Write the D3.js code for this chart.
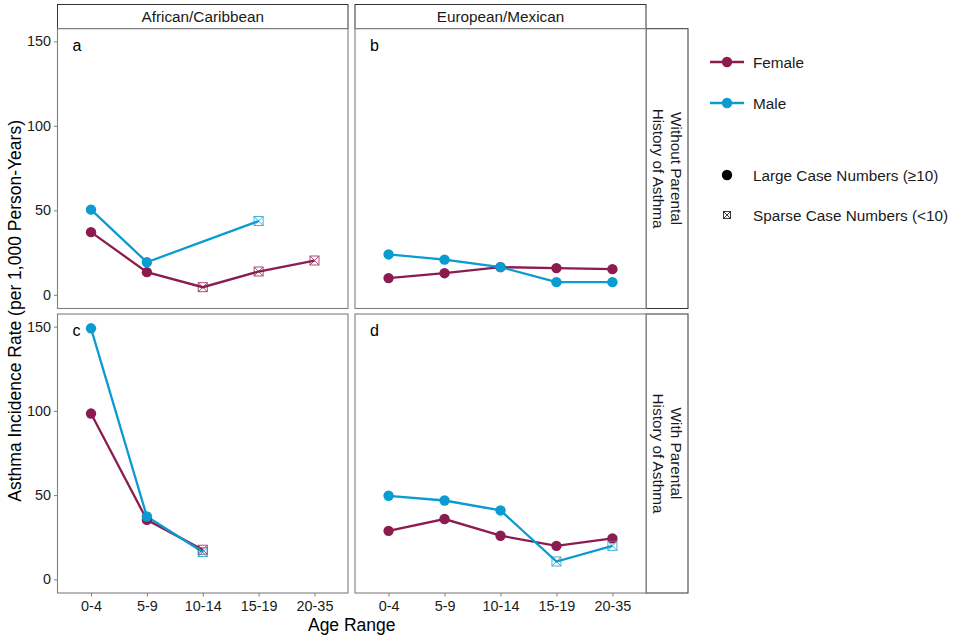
<!DOCTYPE html>
<html>
<head>
<meta charset="utf-8">
<script src="https://cdn.jsdelivr.net/npm/d3@7"></script>
<style>
  body { margin: 0; background: #fff; }
  svg { display: block; font-family: "Liberation Sans", Arial, sans-serif; }
</style>
</head>
<body>
<svg id="chart" width="953" height="638"></svg>
<script>
// ---------------- data ----------------
const ageRanges = ["0-4", "5-9", "10-14", "15-19", "20-35"];
const ancestryGroups = ["African/Caribbean", "European/Mexican"];
const historyGroups = [["Without Parental", "History of Asthma"], ["With Parental", "History of Asthma"]];
const panelLetters = ["a", "b", "c", "d"];
const yTicks = [0, 50, 100, 150];

// rates per panel (a, b, c, d), null = not shown
const femaleRates = [
  [37.1, 13.4, 4.5, 13.8, 20.3],
  [9.9, 12.8, 16.4, 15.8, 15.2],
  [98.4, 35.3, 17.6, null, null],
  [28.8, 35.8, 25.9, 19.9, 24.3]
];
const maleRates = [
  [50.4, 19.3, null, 43.7, null],
  [23.9, 20.8, 16.4, 7.5, 7.5],
  [149.0, 37.3, 16.2, null, null],
  [49.6, 46.8, 40.9, 10.6, 19.9]
];
// 1 = sparse case numbers (<10)
const femaleSparse = [
  [0, 0, 1, 1, 1],
  [0, 0, 0, 0, 0],
  [0, 0, 1, 0, 0],
  [0, 0, 0, 0, 0]
];
const maleSparse = [
  [0, 0, 0, 1, 0],
  [0, 0, 0, 0, 0],
  [0, 0, 1, 0, 0],
  [0, 0, 0, 1, 1]
];
const sexLabels = ["Female", "Male"];
const sexColors = ["#8C1C4F", "#0A9BD1"];
const caseLabels = ["Large Case Numbers (\u226510)", "Sparse Case Numbers (<10)"];

// ---------------- layout ----------------
const svg = d3.select("#chart");
const panelX = [[57.5, 348], [355, 646]];
const panelY = [[28.7, 308.5], [314, 593]];
const stripTop = 4.5;
const stripRightX = 688;
const axisColor = "#7f7f7f";
const stripFont = 15.3, tickFont = 14.4, legendFont = 15.3;

const x = panelX.map(px => d3.scalePoint().domain(ageRanges)
  .range([px[0], px[1]]).padding(0.6));
const y = panelY.map(py => d3.scaleLinear().domain([-8.1, 157.5])
  .range([py[1], py[0]]));

// strips (top)
ancestryGroups.forEach((g, c) => {
  svg.append("rect").attr("x", panelX[c][0]).attr("y", stripTop)
    .attr("width", panelX[c][1] - panelX[c][0]).attr("height", panelY[0][0] - stripTop)
    .attr("fill", "#fff").attr("stroke", "#333").attr("stroke-width", 1);
  svg.append("text").attr("x", (panelX[c][0] + panelX[c][1]) / 2).attr("y", 22)
    .attr("text-anchor", "middle").attr("font-size", stripFont).attr("fill", "#1a1a1a").text(g);
});
// strips (right)
historyGroups.forEach((lines, r) => {
  svg.append("rect").attr("x", panelX[1][1]).attr("y", panelY[r][0])
    .attr("width", stripRightX - panelX[1][1]).attr("height", panelY[r][1] - panelY[r][0])
    .attr("fill", "#fff").attr("stroke", "#333").attr("stroke-width", 1);
  const cx = (panelX[1][1] + stripRightX) / 2, cy = (panelY[r][0] + panelY[r][1]) / 2;
  const t = svg.append("text").attr("transform", `translate(${cx},${cy}) rotate(90)`)
    .attr("text-anchor", "middle").attr("font-size", stripFont).attr("fill", "#1a1a1a");
  lines.forEach((ln, i) => t.append("tspan").attr("x", 0).attr("y", (i === 0 ? -8.8 : 8.8) + 5.3).text(ln));
});

// markers
const marker = (g, px, py, sparse, color, size) => {
  if (sparse) {
    const h = size / 2;
    const m = g.append("g").attr("stroke", color).attr("stroke-width", 0.9).attr("fill", "none").attr("opacity", 0.85);
    m.append("rect").attr("x", px - h).attr("y", py - h).attr("width", size).attr("height", size);
    m.append("line").attr("x1", px - h).attr("y1", py - h).attr("x2", px + h).attr("y2", py + h);
    m.append("line").attr("x1", px - h).attr("y1", py + h).attr("x2", px + h).attr("y2", py - h);
  } else {
    g.append("circle").attr("cx", px).attr("cy", py).attr("r", 5.2).attr("fill", color);
  }
};

// panels
for (let r = 0; r < 2; r++) {
  for (let c = 0; c < 2; c++) {
    const p = r * 2 + c;
    const g = svg.append("g");
    g.append("rect").attr("x", panelX[c][0]).attr("y", panelY[r][0])
      .attr("width", panelX[c][1] - panelX[c][0]).attr("height", panelY[r][1] - panelY[r][0])
      .attr("fill", "#fff").attr("stroke", axisColor).attr("stroke-width", 1.1);
    g.append("text").attr("x", panelX[c][0] + 15).attr("y", panelY[r][0] + 22)
      .attr("font-size", 16).attr("fill", "#000").text(panelLetters[p]);

    const series = [femaleRates[p], maleRates[p]];
    const sparse = [femaleSparse[p], maleSparse[p]];
    const line = d3.line().x(d => x[c](d.age)).y(d => y[r](d.v));
    const pts = series.map((vals, s) => ageRanges.map((a, i) => ({ age: a, v: vals[i], sp: sparse[s][i] }))
      .filter(d => d.v !== null));
    pts.forEach((d, s) => {
      g.append("path").datum(d).attr("d", line).attr("fill", "none")
        .attr("stroke", sexColors[s]).attr("stroke-width", 2.3);
    });
    pts.forEach((d, s) => {
      d.forEach(pt => marker(g, x[c](pt.age), y[r](pt.v), pt.sp, sexColors[s], 9));
    });

    if (c === 0) {
      const ax = g.append("g").attr("transform", `translate(${panelX[c][0]},0)`)
        .call(d3.axisLeft(y[r]).tickValues(yTicks).tickSize(3.5).tickPadding(3));
      ax.select(".domain").remove();
      ax.selectAll(".tick line").attr("stroke", axisColor);
      ax.selectAll(".tick text").attr("font-size", tickFont).attr("fill", "#1a1a1a")
        .attr("font-family", "Liberation Sans, Arial, sans-serif");
    }
    if (r === 1) {
      const ax = g.append("g").attr("transform", `translate(0,${panelY[r][1]})`)
        .call(d3.axisBottom(x[c]).tickSize(3.5).tickPadding(4));
      ax.select(".domain").remove();
      ax.selectAll(".tick line").attr("stroke", axisColor);
      ax.selectAll(".tick text").attr("font-size", tickFont).attr("fill", "#1a1a1a")
        .attr("font-family", "Liberation Sans, Arial, sans-serif");
    }
  }
}

// axis titles
svg.append("text").attr("x", (panelX[0][0] + panelX[1][1]) / 2).attr("y", 631)
  .attr("text-anchor", "middle").attr("font-size", 17.5).attr("fill", "#000").text("Age Range");
svg.append("text").attr("transform", `translate(21,${(panelY[0][0] + panelY[1][1]) / 2}) rotate(-90)`)
  .attr("text-anchor", "middle").attr("font-size", 17.5).attr("fill", "#000")
  .text("Asthma Incidence Rate (per 1,000 Person-Years)");

// legend
const lg = svg.append("g");
sexLabels.forEach((lab, i) => {
  const ly = 62 + i * 41;
  lg.append("line").attr("x1", 710).attr("x2", 744).attr("y1", ly).attr("y2", ly)
    .attr("stroke", sexColors[i]).attr("stroke-width", 2.3);
  lg.append("circle").attr("cx", 727).attr("cy", ly).attr("r", 5.2).attr("fill", sexColors[i]);
  lg.append("text").attr("x", 753).attr("y", ly + 5.5).attr("font-size", legendFont).attr("fill", "#1a1a1a").text(lab);
});
caseLabels.forEach((lab, i) => {
  const ly = 175 + i * 40;
  marker(lg, 727, ly, i === 1, "#000", 7);
  lg.append("text").attr("x", 753).attr("y", ly + 5.5).attr("font-size", legendFont).attr("fill", "#1a1a1a").text(lab);
});
</script>
</body>
</html>
